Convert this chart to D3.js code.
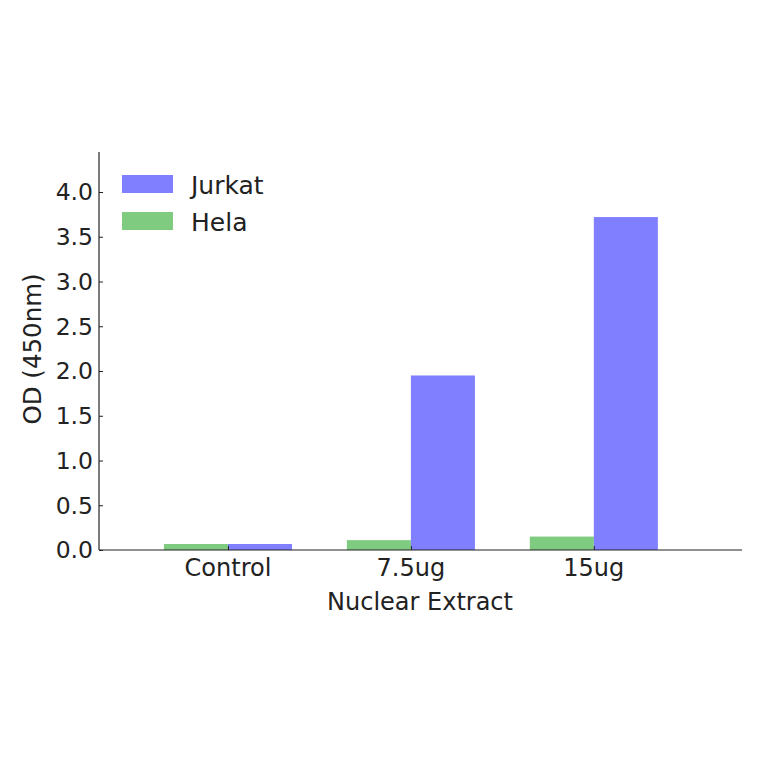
<!DOCTYPE html>
<html>
<head>
<meta charset="utf-8">
<script src="https://cdn.jsdelivr.net/npm/d3@7"></script>
<style>
  body { margin: 0; background: #fff; }
  text { font-family: "DejaVu Sans", sans-serif; fill: #222; }
</style>
</head>
<body>
<svg id="chart" width="764" height="764"></svg>
<script>
// data
const categories = ['Control', '7.5ug', '15ug'];
const seriesNames = ['Hela', 'Jurkat'];
const helaValues = [0.067, 0.11, 0.15];
const jurkatValues = [0.067, 1.95, 3.72];
const yTicks = [0, 0.5, 1.0, 1.5, 2.0, 2.5, 3.0, 3.5, 4.0];

const colors = { Hela: '#7fcb7f', Jurkat: '#7f7fff' };

const svg = d3.select('#chart');

// plot area
const plotLeft = 99, plotRight = 742, plotTop = 152, plotBottom = 550;

// x axis in category index units, like a matplotlib bar plot
const x = d3.scaleLinear().domain([-0.705, 2.81]).range([plotLeft, plotRight]);
const y = d3.scaleLinear().domain([0, 4.447]).range([plotBottom, plotTop]);
const barWidth = 0.35;

// bars
const groups = [
    { name: 'Hela', values: helaValues, offset: -barWidth },
    { name: 'Jurkat', values: jurkatValues, offset: 0 }
];
groups.forEach(function (g) {
    svg.append('g')
        .selectAll('rect')
        .data(g.values)
        .join('rect')
        .attr('x', function (d, i) { return x(i + g.offset); })
        .attr('width', x(barWidth) - x(0))
        .attr('y', function (d) { return y(d); })
        .attr('height', function (d) { return y(0) - y(d); })
        .attr('fill', colors[g.name]);
});

// y axis, ticks pointing inward
const yAxis = svg.append('g')
    .attr('transform', 'translate(' + plotLeft + ',0)')
    .call(d3.axisRight(y).tickValues(yTicks).tickSize(4).tickSizeOuter(0));
yAxis.select('.domain').remove();
yAxis.selectAll('text').remove();
yAxis.selectAll('line').attr('stroke', '#222');
svg.append('g').selectAll('text')
    .data(yTicks)
    .join('text')
    .attr('x', plotLeft - 6)
    .attr('y', function (d) { return y(d); })
    .attr('dy', '0.36em')
    .attr('text-anchor', 'end')
    .attr('font-size', 23.5)
    .text(d3.format('.1f'));

// x axis
const xAxis = svg.append('g')
    .attr('transform', 'translate(0,' + plotBottom + ')')
    .call(d3.axisTop(x).tickValues([0, 1, 2]).tickSize(4).tickSizeOuter(0));
xAxis.select('.domain').remove();
xAxis.selectAll('text').remove();
xAxis.selectAll('line').attr('stroke', '#222');
svg.append('g').selectAll('text')
    .data(categories)
    .join('text')
    .attr('x', function (d, i) { return x(i); })
    .attr('y', 576)
    .attr('text-anchor', 'middle')
    .attr('font-size', 24)
    .text(function (d) { return d; });

// spines
svg.append('line').attr('x1', plotLeft).attr('x2', plotLeft).attr('y1', plotTop).attr('y2', plotBottom)
    .attr('stroke', '#222').attr('stroke-width', 1.2);
svg.append('line').attr('x1', plotLeft).attr('x2', plotRight).attr('y1', plotBottom).attr('y2', plotBottom)
    .attr('stroke', '#222').attr('stroke-width', 1.2);

// axis titles
svg.append('text')
    .attr('x', 420)
    .attr('y', 610)
    .attr('text-anchor', 'middle')
    .attr('font-size', 24)
    .text('Nuclear Extract');
svg.append('text')
    .attr('transform', 'translate(41,349) rotate(-90)')
    .attr('text-anchor', 'middle')
    .attr('font-size', 24.5)
    .text('OD (450nm)');

// legend
const legendItems = ['Jurkat', 'Hela'];
const legend = svg.append('g').attr('transform', 'translate(122,175)');
legendItems.forEach(function (name, i) {
    legend.append('rect')
        .attr('x', 0).attr('y', i * 37)
        .attr('width', 51).attr('height', 18)
        .attr('fill', colors[name]);
    legend.append('text')
        .attr('x', 69).attr('y', i * 36.5 + 19)
        .attr('font-size', 25)
        .text(name);
});
</script>
</body>
</html>
